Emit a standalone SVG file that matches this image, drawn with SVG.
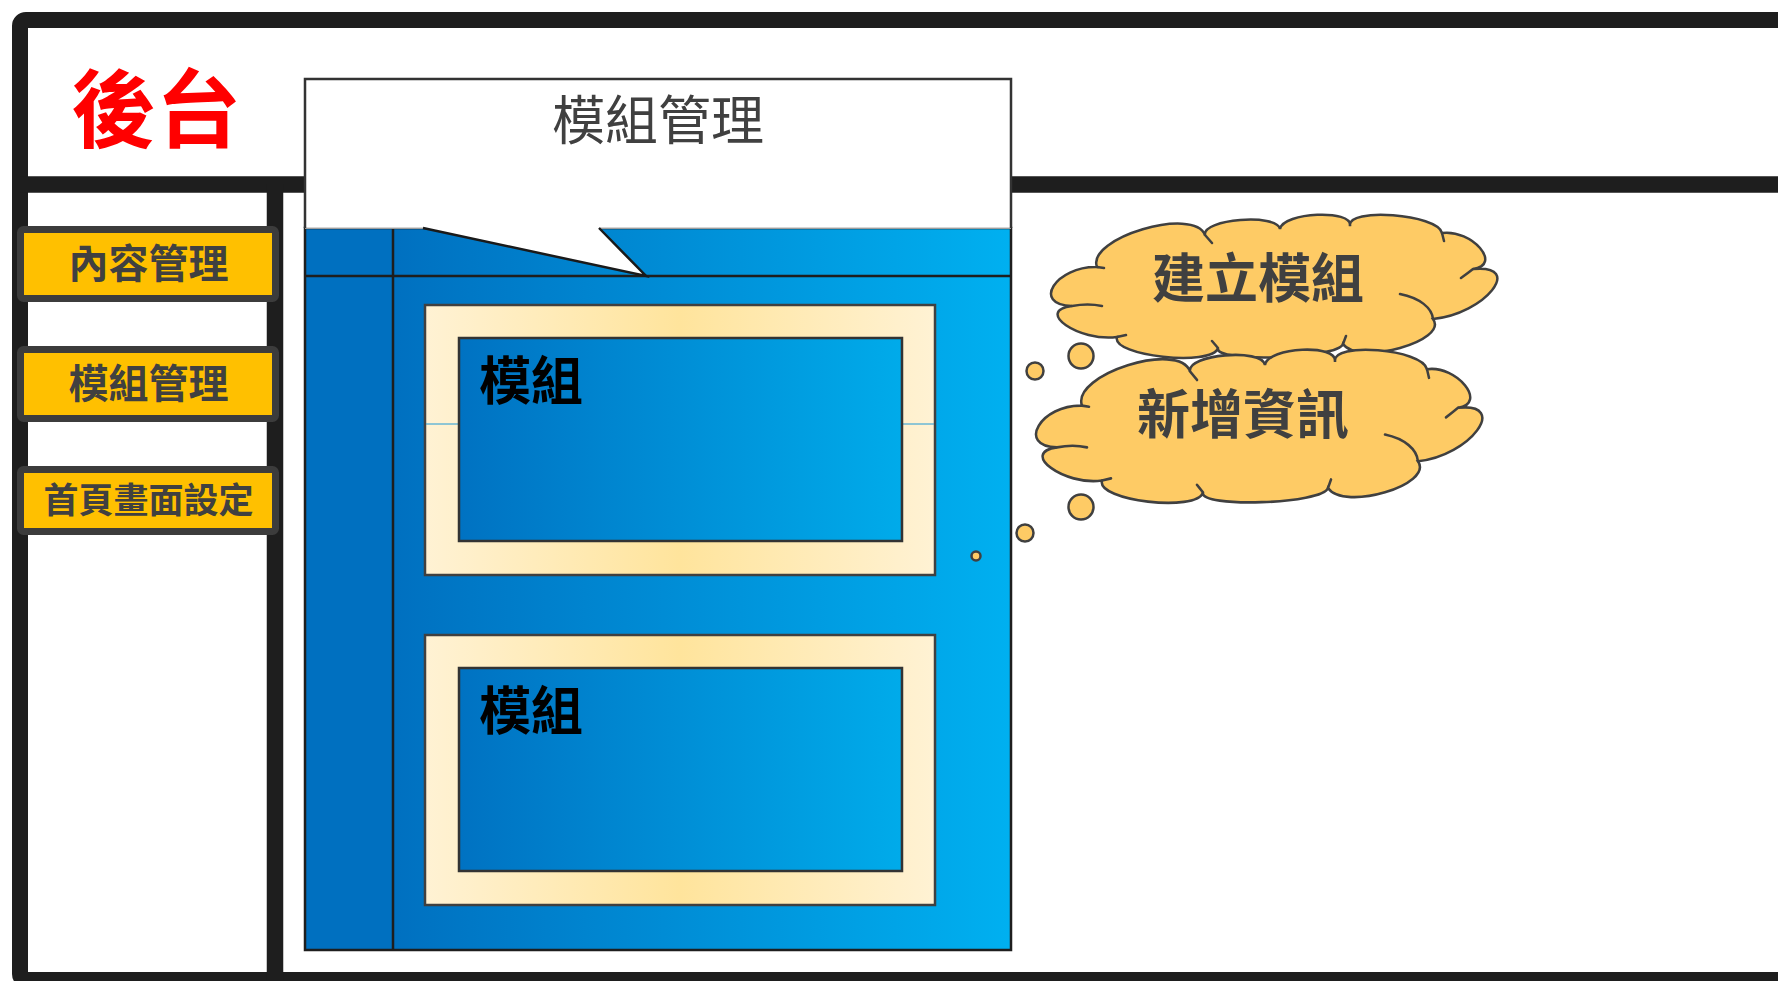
<svg xmlns="http://www.w3.org/2000/svg" width="1778" height="981" viewBox="0 0 1778 981">
<style>
.cjk{font-family:"Noto Sans CJK TC","Noto Sans CJK SC",sans-serif;}
.nav{fill:#FFC000;stroke:#3c3c3c;stroke-width:7;}
.navt{fill:#404040;font-weight:700;text-anchor:middle;}
.bar{stroke:#1e1e1e;fill:none;}
.card{fill:url(#gCard);stroke:#404040;stroke-width:2.5;}
.inner{fill:url(#gInner);stroke:#333;stroke-width:2.5;}
.modt{fill:#000;font-weight:700;font-size:52px;text-anchor:middle;}
.cloud{fill:#FECB65;stroke:#404040;stroke-width:2.5;}
.hook{fill:none;stroke:#404040;stroke-width:2.5;stroke-linecap:round;}
.bub{fill:#FECB65;stroke:#404040;stroke-width:2.5;}
.cloudt{fill:#404040;font-weight:700;font-size:53px;text-anchor:middle;}
</style>
<defs>
<linearGradient id="gBlue" gradientUnits="userSpaceOnUse" x1="393" y1="0" x2="1011" y2="0">
<stop offset="0" stop-color="#0070C0"/><stop offset="1" stop-color="#00B0F0"/>
</linearGradient>
<linearGradient id="gInner" x1="0" y1="0" x2="1" y2="0">
<stop offset="0" stop-color="#0072C2"/><stop offset="1" stop-color="#00ABEA"/>
</linearGradient>
<linearGradient id="gCard" x1="0" y1="0" x2="1" y2="0">
<stop offset="0" stop-color="#FFF2D4"/><stop offset="0.5" stop-color="#FFE49C"/><stop offset="1" stop-color="#FFF2D4"/>
</linearGradient>
<path id="cloudShape" d="M1097,267 C1086,238 1194,206 1205,235 C1202,219 1277,213 1280,229 C1283,212 1353,209 1350,226 C1346,207 1438,214 1442,233 C1472,229 1503,265 1473,269 C1525,264 1485,314 1433,319 C1449,341 1359,366 1343,344 C1338,359 1213,363 1218,348 C1212,367 1111,356 1117,337 C1079,342 1034,311 1072,306 C1031,305 1056,266 1097,267 Z"/>
<path id="cloudHooks" d="M1473,269 Q1468,273 1461,278 M1400,294 C1420,298 1432,308 1433,319 M1072,306 Q1088,303 1102,306 M1117,337 L1126,335 M1218,348 L1212,341 M1343,344 L1346,336 M1205,235 L1212,243 M1442,233 L1444,241 M1097,267 L1104,268"/>
</defs>

<rect x="0" y="0" width="1778" height="981" fill="#ffffff"/>

<g id="frame">
<rect class="bar" x="20" y="20" width="1800" height="960" rx="6" stroke-width="16"/>
<line class="bar" x1="20" y1="184.5" x2="1778" y2="184.5" stroke-width="16.5"/>
<line class="bar" x1="275" y1="184" x2="275" y2="980" stroke-width="16.5"/>
</g>

<g id="title">
<text class="cjk" x="156" y="141" font-size="85" font-weight="700" fill="#FF0000" text-anchor="middle">後台</text>
</g>

<g id="nav-content">
<rect class="nav" x="20.5" y="229.5" width="255" height="69" rx="3"/>
<text class="cjk navt" x="148.5" y="277.5" font-size="40">內容管理</text>
</g>
<g id="nav-module">
<rect class="nav" x="20.5" y="349.5" width="255" height="69" rx="3"/>
<text class="cjk navt" x="148.5" y="397.5" font-size="40">模組管理</text>
</g>
<g id="nav-home">
<rect class="nav" x="20.5" y="469.5" width="255" height="62" rx="3"/>
<text class="cjk navt" x="148.5" y="513" font-size="35">首頁畫面設定</text>
</g>

<g id="module-panel">
<rect x="305" y="228" width="706" height="722" fill="url(#gBlue)"/>
<rect x="305" y="228" width="88" height="722" fill="#0070C0"/>
<line x1="393" y1="228" x2="393" y2="950" stroke="#1e1e1e" stroke-width="2.5"/>
<line x1="305" y1="276" x2="1011" y2="276" stroke="#1e1e1e" stroke-width="2.5"/>
<rect x="305" y="228" width="706" height="722" fill="none" stroke="#1e1e1e" stroke-width="2.5"/>
<circle class="bub" cx="976" cy="556" r="4.5" stroke-width="1.5"/>
</g>

<g id="module-card-1">
<rect class="card" x="425" y="305" width="510" height="270"/>
<line x1="426" y1="424" x2="934" y2="424" stroke="#1f9ad8" stroke-width="1"/>
<rect class="inner" x="459" y="338" width="443" height="203"/>
<text class="cjk modt" x="531" y="400">模組</text>
</g>

<g id="module-card-2">
<rect class="card" x="425" y="635" width="510" height="270"/>
<rect class="inner" x="459" y="668" width="443" height="203"/>
<text class="cjk modt" x="531" y="730">模組</text>
</g>

<g id="callout">
<path d="M305,79 H1011 V228 H599 L646,276 L423,228 H305 Z" fill="#ffffff"/>
<line x1="305" y1="228" x2="423" y2="228" stroke="#c8c8c8" stroke-width="1.5"/>
<line x1="599" y1="228" x2="1011" y2="228" stroke="#c8c8c8" stroke-width="1.5"/>
<path d="M305,228 V79 H1011 V228" fill="none" stroke="#333" stroke-width="2.5"/>
<path d="M423,228 L646,276 L599,228" fill="none" stroke="#1a1a1a" stroke-width="2.5"/>
<text class="cjk" x="658" y="140" font-size="53" fill="#404040" text-anchor="middle">模組管理</text>
</g>

<g id="connectors">
<circle class="bub" cx="1035" cy="371" r="8.5"/>
<circle class="bub" cx="1081" cy="356" r="12.5"/>
<circle class="bub" cx="1081" cy="507" r="12.5"/>
<circle class="bub" cx="1025" cy="533" r="8.5"/>
</g>

<g id="cloud-create">
<use href="#cloudShape" class="cloud"/>
<use href="#cloudHooks" class="hook"/>
<text class="cjk cloudt" x="1258" y="298">建立模組</text>
</g>

<g id="cloud-add">
<g transform="translate(-15,350) scale(1,1.07) translate(0,-215)">
<use href="#cloudShape" class="cloud" vector-effect="non-scaling-stroke"/>
<use href="#cloudHooks" class="hook" vector-effect="non-scaling-stroke"/>
</g>
<text class="cjk cloudt" x="1243" y="434">新增資訊</text>
</g>
</svg>
